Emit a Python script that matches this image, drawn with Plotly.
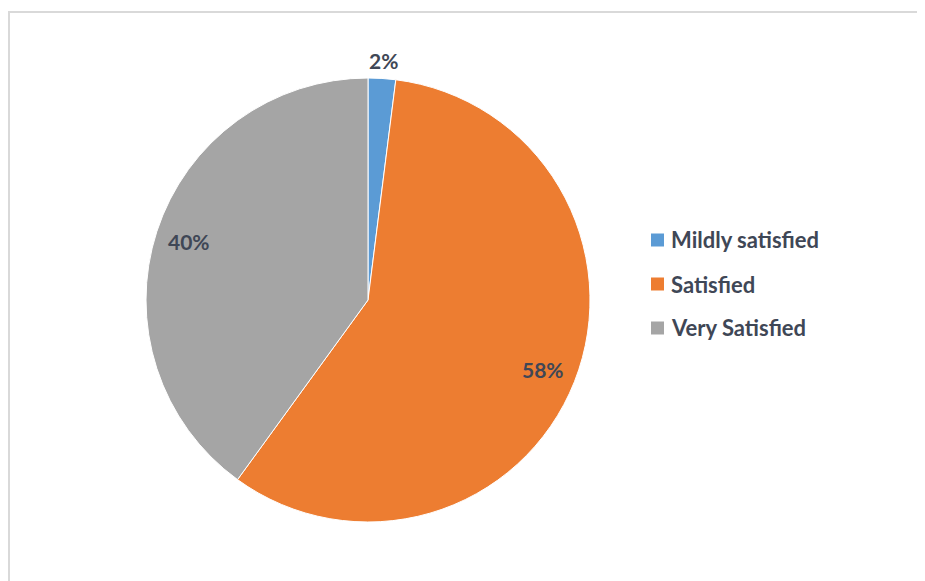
import math
import plotly.graph_objects as go

categories = ["Mildly satisfied", "Satisfied", "Very Satisfied"]
values = [2, 58, 40]
colors = ["#5B9BD5", "#ED7D31", "#A5A5A5"]

W, H = 925, 581
OFF = 8  # page body margin
cx, cy, R = 368 - OFF, 300 - OFF, 222

fig = go.Figure()
fig.add_trace(go.Pie(
    labels=categories, values=values, sort=False, direction="clockwise", rotation=0,
    marker=dict(colors=colors, line=dict(color="white", width=1)),
    textinfo="none", hoverinfo="label+percent", showlegend=False,
    domain=dict(x=[(cx - R) / W, (cx + R) / W], y=[(H - cy - R) / H, (H - cy + R) / H]),
))

annotations = []
shapes = [dict(type="rect", xref="paper", yref="paper",
               x0=1 / W, x1=1.05, y0=-0.05, y1=1 - 4 / H,
               line=dict(color="#D9D9D9", width=2), fillcolor="rgba(0,0,0,0)")]
total = sum(values)
cum = 0
text_color = "#3F4756"
label_font = dict(family="Lato, Open Sans, sans-serif", size=21, color=text_color)
for v in values:
    frac = v / total
    mid = (cum + frac / 2) * 2 * math.pi
    cum += frac
    rf = 1.08 if frac < 0.05 else 0.85
    px = cx + rf * R * math.sin(mid)
    py = cy - rf * R * math.cos(mid)
    annotations.append(dict(
        x=px / W, y=1 - py / H, xref="paper", yref="paper", showarrow=False,
        text=f"<b>{round(frac * 100)}%</b>", font=label_font,
        xanchor="center", yanchor="middle",
    ))

# legend
for i, (c, col) in enumerate(zip(categories, colors)):
    ly = 240 - OFF + 44 * i
    sx0 = 651 - OFF
    shapes.append(dict(type="rect", xref="paper", yref="paper",
                       x0=sx0 / W, x1=(sx0 + 13) / W,
                       y0=1 - (ly + 6.5) / H, y1=1 - (ly - 6.5) / H,
                       line=dict(width=0), fillcolor=col))
    annotations.append(dict(
        x=(669 - OFF) / W, y=1 - ly / H, xref="paper", yref="paper", showarrow=False,
        text=f"<b>{c}</b>",
        font=dict(family="Lato, Open Sans, sans-serif", size=22, color=text_color),
        xanchor="left", yanchor="middle",
    ))

fig.update_layout(
    width=W, height=H, margin=dict(l=0, r=0, t=0, b=0),
    paper_bgcolor="white", plot_bgcolor="white",
    annotations=annotations, shapes=shapes,
)

fig.write_html("out.html")
